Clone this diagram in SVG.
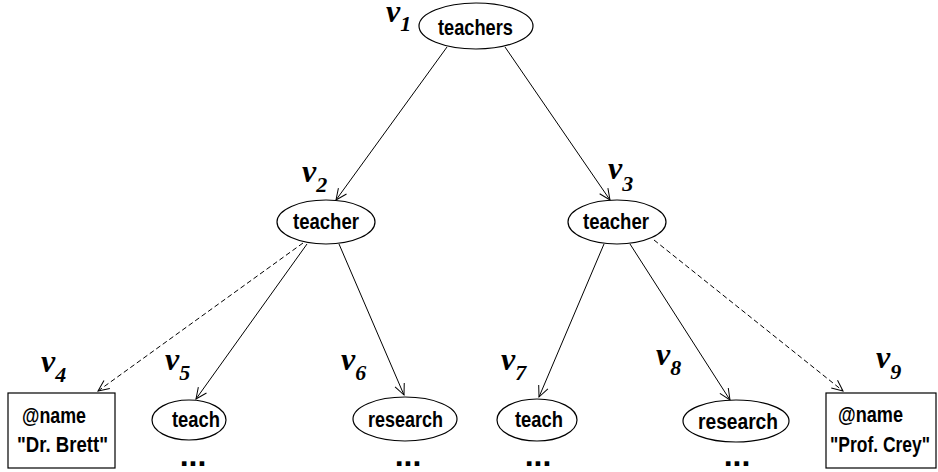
<svg xmlns="http://www.w3.org/2000/svg" width="938" height="472" viewBox="0 0 938 472">
  <defs>
    <marker id="arrow" markerUnits="userSpaceOnUse" markerWidth="14" markerHeight="12" refX="11" refY="5" orient="auto" overflow="visible">
      <path d="M0,0 L11,5 L0,10" fill="none" stroke="#000" stroke-width="1"/>
    </marker>
    <style>
      .shape { fill: #fff; stroke: #000; stroke-width: 1.2; }
      .lbl { font-family: "Liberation Sans", Arial, sans-serif; font-weight: bold; font-size: 22px; fill: #000; }
      .var { font-family: "Liberation Serif", "Times New Roman", serif; font-weight: bold; font-style: italic; font-size: 32px; fill: #000; }
      .sub { font-size: 22px; }
      .dots { font-family: "Liberation Sans", Arial, sans-serif; font-weight: bold; font-size: 32px; fill: #000; text-anchor: middle; }
      .edge { fill: none; stroke: #000; stroke-width: 1; marker-end: url(#arrow); }
      .dashed { stroke-dasharray: 5 3; }
    </style>
  </defs>
  <rect width="938" height="472" fill="#fff"/>

  <g id="edges">
    <line class="edge" x1="447" y1="47" x2="336" y2="200"/>
    <line class="edge" x1="505" y1="47" x2="610" y2="200"/>
    <line class="edge dashed" x1="303" y1="243" x2="98" y2="391"/>
    <line class="edge" x1="307" y1="244" x2="196" y2="399"/>
    <line class="edge" x1="339" y1="244" x2="404" y2="395"/>
    <line class="edge" x1="604" y1="244" x2="539" y2="397"/>
    <line class="edge" x1="630" y1="244" x2="730" y2="400"/>
    <line class="edge dashed" x1="654" y1="240" x2="843" y2="391"/>
  </g>

  <g id="v1">
    <ellipse class="shape" cx="476" cy="26" rx="57" ry="23"/>
    <text class="lbl" x="438" y="35" textLength="75" lengthAdjust="spacingAndGlyphs">teachers</text>
    <text class="var" x="386" y="22">v<tspan class="sub" dy="9">1</tspan></text>
  </g>

  <g id="v2">
    <ellipse class="shape" cx="326" cy="222" rx="49" ry="22"/>
    <text class="lbl" x="293" y="229" textLength="66" lengthAdjust="spacingAndGlyphs">teacher</text>
    <text class="var" x="302" y="182">v<tspan class="sub" dy="10">2</tspan></text>
  </g>

  <g id="v3">
    <ellipse class="shape" cx="617" cy="222" rx="49" ry="22"/>
    <text class="lbl" x="583" y="229" textLength="66" lengthAdjust="spacingAndGlyphs">teacher</text>
    <text class="var" x="608" y="179">v<tspan class="sub" dy="12">3</tspan></text>
  </g>

  <g id="v4">
    <rect class="shape" x="8" y="393" width="107" height="75"/>
    <text class="lbl" x="22" y="423" textLength="64" lengthAdjust="spacingAndGlyphs">@name</text>
    <text class="lbl" x="17" y="452" textLength="91" lengthAdjust="spacingAndGlyphs">"Dr. Brett"</text>
    <text class="var" x="41" y="372">v<tspan class="sub" dy="10">4</tspan></text>
  </g>

  <g id="v5">
    <ellipse class="shape" cx="189" cy="420" rx="37" ry="20"/>
    <text class="lbl" x="172" y="427" textLength="48" lengthAdjust="spacingAndGlyphs">teach</text>
    <text class="var" x="165" y="370">v<tspan class="sub" dy="10">5</tspan></text>
    <text class="dots" x="193" y="466">...</text>
  </g>

  <g id="v6">
    <ellipse class="shape" cx="405" cy="419" rx="52" ry="22"/>
    <text class="lbl" x="368" y="427" textLength="75" lengthAdjust="spacingAndGlyphs">research</text>
    <text class="var" x="341" y="370">v<tspan class="sub" dy="10">6</tspan></text>
    <text class="dots" x="408" y="466">...</text>
  </g>

  <g id="v7">
    <ellipse class="shape" cx="537" cy="420" rx="40" ry="21"/>
    <text class="lbl" x="515" y="427" textLength="48" lengthAdjust="spacingAndGlyphs">teach</text>
    <text class="var" x="501" y="370">v<tspan class="sub" dy="10">7</tspan></text>
    <text class="dots" x="538" y="466">...</text>
  </g>

  <g id="v8">
    <ellipse class="shape" cx="736" cy="421" rx="53" ry="21"/>
    <text class="lbl" x="698" y="429" textLength="80" lengthAdjust="spacingAndGlyphs">research</text>
    <text class="var" x="656" y="365">v<tspan class="sub" dy="10">8</tspan></text>
    <text class="dots" x="737" y="466">...</text>
  </g>

  <g id="v9">
    <rect class="shape" x="826" y="393" width="110" height="75"/>
    <text class="lbl" x="838" y="422" textLength="65" lengthAdjust="spacingAndGlyphs">@name</text>
    <text class="lbl" x="830" y="452" textLength="100" lengthAdjust="spacingAndGlyphs">"Prof. Crey"</text>
    <text class="var" x="876" y="368">v<tspan class="sub" dy="11">9</tspan></text>
  </g>
</svg>
